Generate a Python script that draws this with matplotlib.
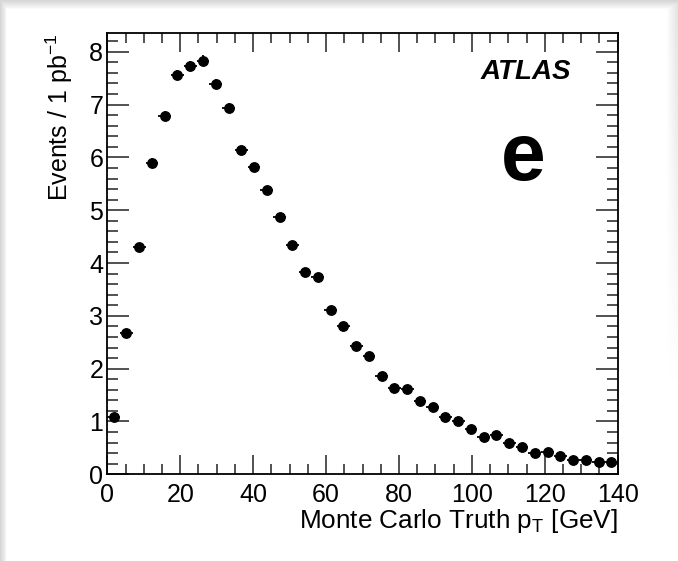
import matplotlib
matplotlib.use("Agg")
import matplotlib.pyplot as plt
from matplotlib.ticker import MultipleLocator
import numpy as np

plt.rcParams['font.family'] = ['Liberation Sans', 'DejaVu Sans']

bin_edges = np.arange(0, 140.01, 3.5)
events = [1.09, 2.68, 4.31, 5.90, 6.79, 7.56, 7.73, 7.83, 7.39, 6.94,
          6.14, 5.81, 5.38, 4.88, 4.34, 3.83, 3.73, 3.12, 2.80, 2.43,
          2.24, 1.87, 1.63, 1.61, 1.38, 1.27, 1.08, 1.00, 0.85, 0.71,
          0.74, 0.60, 0.52, 0.41, 0.43, 0.35, 0.28, 0.27, 0.24, 0.24]
errors = [0.04, 0.06, 0.07, 0.085, 0.09, 0.10, 0.10, 0.10, 0.095, 0.09,
          0.085, 0.085, 0.08, 0.075, 0.07, 0.07, 0.065, 0.06, 0.06, 0.055,
          0.05, 0.05, 0.045, 0.045, 0.04, 0.04, 0.035, 0.035, 0.03, 0.03,
          0.03, 0.03, 0.025, 0.025, 0.025, 0.02, 0.02, 0.02, 0.02, 0.02]

centers = 0.5 * (bin_edges[:-1] + bin_edges[1:])
xerr = 0.5 * np.diff(bin_edges)

W, H = 678, 561
fig = plt.figure(figsize=(W / 100, H / 100), dpi=100)
fig.patch.set_facecolor('white')

# screenshot-like shadow border (top, left, fading right edge)
bg = np.ones((H, W, 3))
rows = np.arange(H)[:, None]
cols = np.arange(W)[None, :]
shade = np.zeros((H, W))
shade = np.maximum(shade, np.clip((9 - rows) / 9.0, 0, 1) * 0.16)
shade = np.maximum(shade, np.clip((6 - cols) / 6.0, 0, 1) * 0.13 + (cols < 6) * 0.03)
right_fade = np.clip((cols - 666) / 12.0, 0, 1) * np.clip((380 - rows) / 380.0, 0, 1) * 0.12
shade = np.maximum(shade, right_fade)
bg = bg - shade[:, :, None]
bgax = fig.add_axes([0, 0, 1, 1], zorder=-5)
bgax.imshow(bg, aspect='auto', interpolation='bilinear')
bgax.axis('off')

left, right, top, bottom = 107.3, 617.7, 33.3, 474.3
ax = fig.add_axes([left / W, 1 - bottom / H, (right - left) / W, (bottom - top) / H])
ax.set_facecolor('white')

ax.errorbar(centers, events, xerr=xerr, yerr=errors, fmt='o', color='black',
            markersize=6.8, elinewidth=1.3, capsize=0, zorder=3)

ax.set_xlim(0, 140)
ax.set_ylim(0, 8.35)

ax.xaxis.set_major_locator(MultipleLocator(20))
ax.xaxis.set_minor_locator(MultipleLocator(5))
ax.yaxis.set_major_locator(MultipleLocator(1))
ax.yaxis.set_minor_locator(MultipleLocator(0.2))

ax.tick_params(axis='both', which='both', direction='in', top=True, right=True,
               width=1.1, color='#222222')
ax.tick_params(axis='x', which='major', length=14, labelsize=18, pad=6)
ax.tick_params(axis='x', which='minor', length=7)
ax.tick_params(axis='y', which='major', length=16, labelsize=18, pad=3)
ax.tick_params(axis='y', which='minor', length=8)
for sp in ax.spines.values():
    sp.set_linewidth(1.3)

ax.set_xlabel('Monte Carlo Truth p$_{\\mathregular{T}}$ [GeV]', fontsize=18.8, loc='right',
              labelpad=0)
ax.set_ylabel('Events / 1 pb$^{\\mathregular{-1}}$', fontsize=18, loc='top', labelpad=10)

ax.text(0.820, 0.896, 'ATLAS', transform=ax.transAxes, fontsize=20, fontweight='bold',
        fontstyle='italic', ha='center', va='baseline')
ax.text(0.815, 0.667, 'e', transform=ax.transAxes, fontsize=58, fontweight='bold',
        ha='center', va='baseline')

fig.savefig('out.png', dpi=100, facecolor=fig.get_facecolor())
